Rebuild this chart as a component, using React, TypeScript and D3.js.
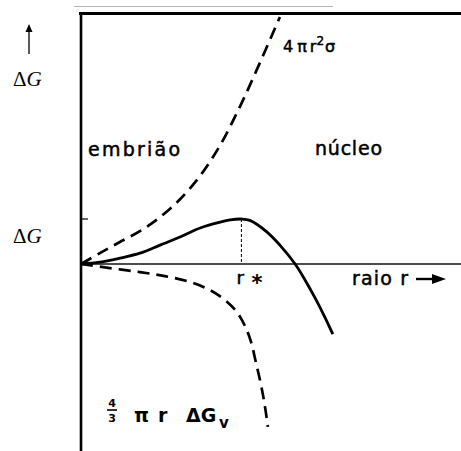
import React from "react";
import * as d3 from "d3";

// Nucleation free energy: surface term, volume term and their sum (arbitrary units)
const surfaceR = [0, 0.47, 0.97, 1.47, 1.97, 2.47, 2.97, 3.47, 3.97, 4.46, 4.96];
const surfaceG = [0, 0.24, 0.49, 0.73, 1.04, 1.44, 1.96, 2.64, 3.51, 4.47, 5.49];

const volumeR = [0, 0.72, 1.47, 2.09, 2.72, 3.22, 3.59, 3.89, 4.09, 4.24, 4.36, 4.49, 4.59, 4.66];
const volumeG = [0, -0.09, -0.18, -0.27, -0.4, -0.58, -0.8, -1.07, -1.38, -1.73, -2.18, -2.69, -3.18, -3.62];

const totalR = [0, 0.47, 0.97, 1.47, 1.97, 2.47, 2.97, 3.47, 3.72, 4.0, 4.21, 4.64, 4.96, 5.34, 5.59, 5.84, 6.08, 6.28];
const totalG = [0, 0.04, 0.13, 0.24, 0.42, 0.6, 0.8, 0.93, 0.98, 1.0, 0.97, 0.71, 0.42, 0, -0.36, -0.76, -1.18, -1.56];

const rStar = 4.0;
const gStar = 1.0;

const W = 461;
const H = 451;
const x0 = 81;
const yTop = 12;
const yAxis = 264;

const x = d3.scaleLinear().domain([0, 1]).range([x0, x0 + 40.1]);
const y = d3.scaleLinear().domain([0, 1]).range([yAxis, yAxis - 45]);

const zip = (rs: number[], gs: number[]) => rs.map((r, i) => [r, gs[i]] as [number, number]);

const line = d3
  .line<[number, number]>()
  .x((d) => x(d[0]))
  .y((d) => y(d[1]))
  .curve(d3.curveCatmullRom.alpha(0.5));

const sans = "'DejaVu Sans', sans-serif";
const serif = "'Liberation Serif', 'DejaVu Serif', serif";

function DeltaG({ xPos, yPos }: { xPos: number; yPos: number }) {
  return (
    <text x={xPos} y={yPos} fontFamily={serif} fontSize={21}>
      <tspan>Δ</tspan>
      <tspan fontStyle="italic">G</tspan>
    </text>
  );
}

const ink = { stroke: "#000", strokeWidth: 0.5 };

export default function App() {
  return (
    <svg
      width={W}
      height={H}
      style={{ position: "absolute", left: 0, top: 0, background: "#fff" }}
    >
      {/* faint top rule */}
      <line x1={74} x2={333} y1={6.5} y2={6.5} stroke="#b5b5b5" strokeWidth={1} />

      {/* frame: top border and ΔG axis */}
      <line x1={79} x2={W} y1={yTop + 1.5} y2={yTop + 1.5} stroke="#000" strokeWidth={3} />
      <line x1={x0} x2={x0} y1={yTop} y2={H} stroke="#000" strokeWidth={2.6} />

      {/* r axis */}
      <line x1={x0} x2={W} y1={yAxis} y2={yAxis} stroke="#111" strokeWidth={1.4} />

      {/* ΔG* tick and r* marker */}
      <line x1={x0} x2={x0 + 7} y1={y(gStar)} y2={y(gStar)} stroke="#000" strokeWidth={1.2} />
      <line
        x1={x(rStar)}
        x2={x(rStar)}
        y1={y(gStar)}
        y2={yAxis}
        stroke="#000"
        strokeWidth={1}
        strokeDasharray="3,2"
      />

      {/* curves */}
      <path
        d={line(zip(surfaceR, surfaceG)) || ""}
        fill="none"
        stroke="#000"
        strokeWidth={2.7}
        strokeDasharray="12,7"
      />
      <path
        d={line(zip(volumeR, volumeG)) || ""}
        fill="none"
        stroke="#000"
        strokeWidth={2.7}
        strokeDasharray="12,7"
      />
      <path d={line(zip(totalR, totalG)) || ""} fill="none" stroke="#000" strokeWidth={2.8} />

      {/* vertical axis arrow and labels */}
      <line x1={29} x2={29} y1={54} y2={30} stroke="#000" strokeWidth={1.3} />
      <path d="M25.5,32 L29,24 L32.5,32 Z" fill="#000" />
      <DeltaG xPos={13} yPos={86} />
      <DeltaG xPos={13} yPos={243} />

      {/* region labels */}
      <text x={88} y={156} fontFamily={sans} fontSize={19} textLength={92} lengthAdjust="spacing" {...ink}>
        embrião
      </text>
      <text x={315} y={155} fontFamily={sans} fontSize={19} textLength={67} lengthAdjust="spacing" {...ink}>
        núcleo
      </text>

      {/* curve labels */}
      <text x={283} y={52} fontFamily={sans} fontSize={16} {...ink}>
        <tspan>4</tspan>
        <tspan dx={4}>π</tspan>
        <tspan dx={3}>r</tspan>
        <tspan dy={-7} fontSize={12}>2</tspan>
        <tspan dy={7} dx={1}>σ</tspan>
      </text>

      <text x={x(rStar) - 5} y={284} fontFamily={sans} fontSize={18} {...ink}>
        r
      </text>
      <text x={x(rStar) + 10} y={290} fontFamily={sans} fontSize={21} fontWeight="bold">
        *
      </text>

      <text x={352} y={285} fontFamily={sans} fontSize={19} textLength={56} lengthAdjust="spacing" {...ink}>
        raio r
      </text>
      <line x1={416} x2={436} y1={279} y2={279} stroke="#000" strokeWidth={2.4} />
      <path d="M432,274 L446,279 L432,284 Z" fill="#000" />

      {/* volume term label */}
      <g fontFamily={sans} fontWeight="bold">
        <text x={112} y={407} fontSize={11} textAnchor="middle">
          4
        </text>
        <line x1={107} x2={117} y1={410} y2={410} stroke="#000" strokeWidth={1.6} />
        <text x={112} y={422} fontSize={11} textAnchor="middle">
          3
        </text>
        <text x={134} y={422} fontSize={19}>
          π
        </text>
        <text x={158} y={422} fontSize={19}>
          r
        </text>
        <text x={186} y={422} fontSize={19}>
          ΔG
        </text>
        <text x={219} y={428} fontSize={15}>
          v
        </text>
      </g>
    </svg>
  );
}
